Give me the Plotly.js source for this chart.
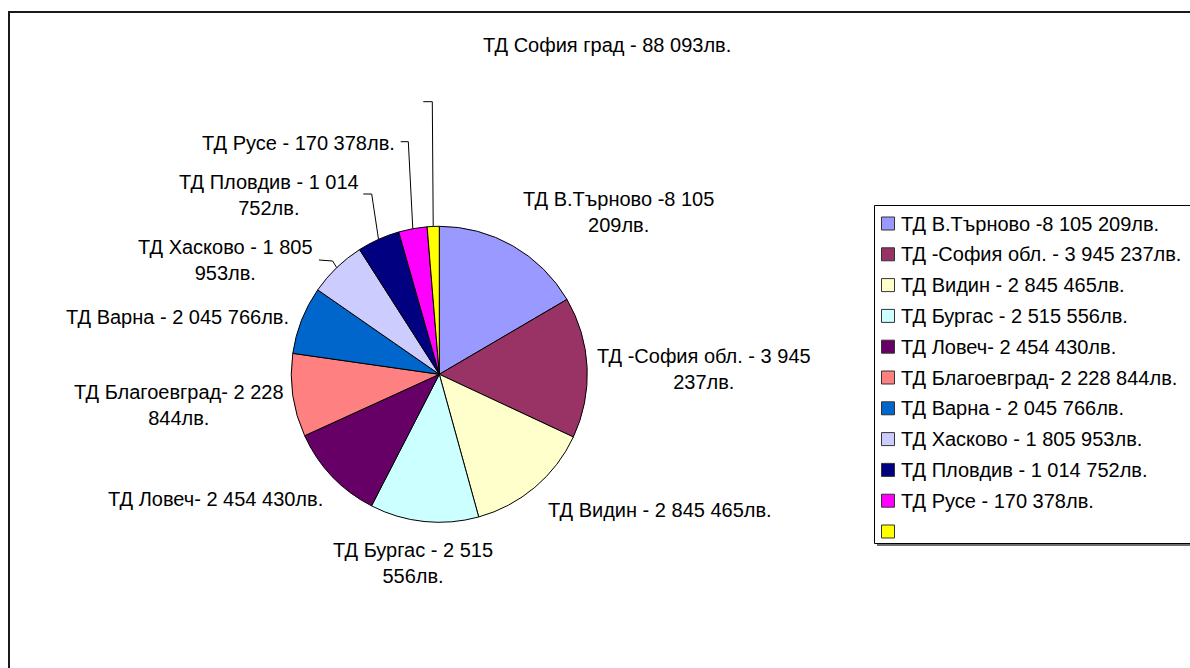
<!DOCTYPE html>
<html>
<head>
<meta charset="utf-8">
<script src="https://cdn.plot.ly/plotly-3.0.1.min.js"></script>
<style>html,body{margin:0;padding:0;background:#fff;}#chart{width:1190px;height:668px;}</style>
</head>
<body>
<div id="chart"></div>
<script>
// ---- DATA ----
const categories = ['ТД В.Търново','ТД -София обл.','ТД Видин','ТД Бургас','ТД Ловеч','ТД Благоевград','ТД Варна','ТД Хасково','ТД Пловдив','ТД Русе','ТД София град'];
const legendLabels = ['ТД В.Търново -8 105 209лв.','ТД -София обл. - 3 945 237лв.','ТД Видин - 2 845 465лв.','ТД Бургас - 2 515 556лв.','ТД Ловеч- 2 454 430лв.','ТД Благоевград- 2 228 844лв.','ТД Варна - 2 045 766лв.','ТД Хасково - 1 805 953лв.','ТД Пловдив - 1 014 752лв.','ТД Русе - 170 378лв.',''];
const sliceLabels = ['ТД В.Търново -8 105<br>209лв.','ТД -София обл. - 3 945<br>237лв.','ТД Видин - 2 845 465лв.','ТД Бургас - 2 515<br>556лв.','ТД Ловеч- 2 454 430лв.','ТД Благоевград- 2 228<br>844лв.','ТД Варна - 2 045 766лв.','ТД Хасково - 1 805<br>953лв.','ТД Пловдив - 1 014<br>752лв.','ТД Русе - 170 378лв.','ТД София град - 88 093лв.'];
// slice shares (%) as drawn in the picture
const sliceShares = [16.56, 15.40, 13.75, 11.86, 10.62, 9.07, 7.40, 6.29, 4.63, 3.11, 1.31];
const sliceColors = ['#9999FF','#993366','#FFFFCC','#CCFFFF','#660066','#FF8080','#0066CC','#CCCCFF','#000080','#FF00FF','#FFFF00'];

// ---- LAYOUT (pixels) ----
const W = 1190, H = 668;
const FONT = 'Arial, "Liberation Sans", sans-serif';
const FS = 20;
const cx = 439.3, cy = 374.3, R = 148;
const px = x => x / W, py = y => 1 - y / H;
// label block centres
const labelPos = [[618,212],[704,369],[660,510],[413,563],[215,499],[179,405],[177,317],[225,260],[269,195],[298,143],[607,45]];
// leader elbows for slices with displaced labels (index -> list of points after the edge point)
const leaders = {7:[[332.7,261],[319,260]], 8:[[371.7,194],[363.3,194]], 9:[[408.3,141.7],[400.7,141.7]], 10:[[432.3,101.7],[423.3,101.7]]};

const total = sliceShares.reduce((a,b)=>a+b,0);
let cum = 0;
const midAngles = sliceShares.map(v => { const m = (cum + v/2)/total*2*Math.PI; cum += v; return m; });

const shapes = [];
const annotations = [];
// outer frame
shapes.push({type:'rect', xref:'paper', yref:'paper', x0:px(9), x1:px(1210), y0:py(12), y1:py(690), line:{color:'#1a1a1a', width:2}, fillcolor:'rgba(0,0,0,0)'});
// legend shadow + box
shapes.push({type:'rect', xref:'paper', yref:'paper', x0:px(877), x1:px(1210), y0:py(208), y1:py(546), line:{width:0}, fillcolor:'#6e6e6e'});
shapes.push({type:'rect', xref:'paper', yref:'paper', x0:px(874.5), x1:px(1205), y0:py(205.5), y1:py(543.5), line:{color:'#000', width:1}, fillcolor:'#fff'});
legendLabels.forEach((t,i) => {
  const yc = 223.5 + i*30.8;
  shapes.push({type:'rect', xref:'paper', yref:'paper', x0:px(881.5), x1:px(894.5), y0:py(yc-6.5), y1:py(yc+6.5), line:{color:'#333', width:1}, fillcolor:sliceColors[i]});
  if (t) annotations.push({xref:'paper', yref:'paper', x:px(899), y:py(yc), xanchor:'left', yanchor:'middle', text:t, showarrow:false, font:{family:FONT, size:FS, color:'#000'}});
});
// slice labels
sliceLabels.forEach((t,i) => {
  annotations.push({xref:'paper', yref:'paper', x:px(labelPos[i][0]), y:py(labelPos[i][1]), xanchor:'center', yanchor:'middle', align:'center', text:t, showarrow:false, font:{family:FONT, size:FS, color:'#000'}});
});
// leader lines
Object.keys(leaders).forEach(k => {
  const a = midAngles[k];
  const ex = cx + R*Math.sin(a), ey = cy - R*Math.cos(a);
  const pts = [[ex,ey]].concat(leaders[k]);
  const path = pts.map((p,j)=>(j?'L':'M')+px(p[0])+','+py(p[1])).join(' ');
  shapes.push({type:'path', xref:'paper', yref:'paper', path:path, line:{color:'#000', width:1}});
});

const trace = {
  type:'pie', labels:categories, values:sliceShares, sort:false, direction:'clockwise', rotation:0,
  marker:{colors:sliceColors, line:{color:'#000', width:1}},
  textinfo:'none', hoverinfo:'none', showlegend:false,
  domain:{x:[px(cx-R), px(cx+R)], y:[py(cy+R), py(cy-R)]}
};

Plotly.newPlot('chart', [trace], {
  width:W, height:H, margin:{l:0,r:0,t:0,b:0}, paper_bgcolor:'#fff', plot_bgcolor:'#fff',
  showlegend:false, shapes:shapes, annotations:annotations, font:{family:FONT}
}, {staticPlot:true});
</script>
</body>
</html>
